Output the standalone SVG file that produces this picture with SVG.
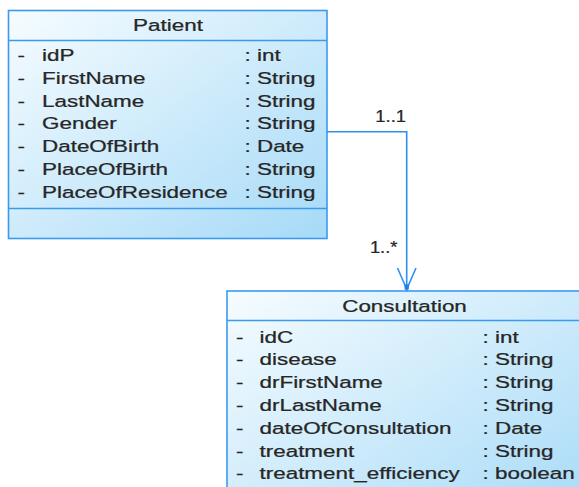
<svg xmlns="http://www.w3.org/2000/svg" width="579" height="487" viewBox="0 0 579 487">
  <defs>
    <linearGradient id="classFill" x1="0" y1="0" x2="1" y2="1">
      <stop offset="0" stop-color="#f6fcff"/>
      <stop offset="1" stop-color="#a6daf7"/>
    </linearGradient>
    <style>
      .box { fill: url(#classFill); stroke: #3a9af2; stroke-width: 1.6; }
      .sep { stroke: #3a9af2; stroke-width: 1.6; fill: none; }
      .t { font-family: "Liberation Sans", Arial, sans-serif; font-size: 17px; fill: #262626; stroke: #262626; stroke-width: 0.25; }
      .title { text-anchor: middle; }
      .lbl { font-family: "Liberation Sans", Arial, sans-serif; font-size: 16px; fill: #262626; stroke: #262626; stroke-width: 0.25; text-anchor: end; }
      .wire { stroke: #2f8ff0; stroke-width: 1.6; fill: none; }
    </style>
  </defs>

  <!-- Patient class -->
  <g id="patient">
    <rect class="box" x="8.5" y="10.5" width="318.5" height="228"/>
    <line class="sep" x1="8.5" y1="40.5" x2="327" y2="40.5"/>
    <line class="sep" x1="8.5" y1="208.5" x2="327" y2="208.5"/>
    <text class="t title" transform="translate(168 30.5) scale(1.32 1)">Patient</text>
    <g>
      <text class="t" transform="translate(17.5 61) scale(1.32 1)">-</text>
      <text class="t" transform="translate(42 61) scale(1.32 1)">idP</text>
      <text class="t" transform="translate(244.5 61) scale(1.32 1)">: int</text>
      <text class="t" transform="translate(17.5 83.75) scale(1.32 1)">-</text>
      <text class="t" transform="translate(42 83.75) scale(1.32 1)">FirstName</text>
      <text class="t" transform="translate(244.5 83.75) scale(1.32 1)">: String</text>
      <text class="t" transform="translate(17.5 106.5) scale(1.32 1)">-</text>
      <text class="t" transform="translate(42 106.5) scale(1.32 1)">LastName</text>
      <text class="t" transform="translate(244.5 106.5) scale(1.32 1)">: String</text>
      <text class="t" transform="translate(17.5 129.25) scale(1.32 1)">-</text>
      <text class="t" transform="translate(42 129.25) scale(1.32 1)">Gender</text>
      <text class="t" transform="translate(244.5 129.25) scale(1.32 1)">: String</text>
      <text class="t" transform="translate(17.5 152) scale(1.32 1)">-</text>
      <text class="t" transform="translate(42 152) scale(1.32 1)">DateOfBirth</text>
      <text class="t" transform="translate(244.5 152) scale(1.32 1)">: Date</text>
      <text class="t" transform="translate(17.5 174.75) scale(1.32 1)">-</text>
      <text class="t" transform="translate(42 174.75) scale(1.32 1)">PlaceOfBirth</text>
      <text class="t" transform="translate(244.5 174.75) scale(1.32 1)">: String</text>
      <text class="t" transform="translate(17.5 197.5) scale(1.32 1)">-</text>
      <text class="t" transform="translate(42 197.5) scale(1.32 1)">PlaceOfResidence</text>
      <text class="t" transform="translate(244.5 197.5) scale(1.32 1)">: String</text>
    </g>
  </g>

  <!-- Consultation class -->
  <g id="consultation">
    <rect class="box" x="227" y="291" width="355" height="235"/>
    <line class="sep" x1="227" y1="320.5" x2="582" y2="320.5"/>
    <text class="t title" transform="translate(404.5 311.5) scale(1.32 1)">Consultation</text>
    <g>
      <text class="t" transform="translate(236 342.5) scale(1.32 1)">-</text>
      <text class="t" transform="translate(259.5 342.5) scale(1.32 1)">idC</text>
      <text class="t" transform="translate(482.5 342.5) scale(1.32 1)">: int</text>
      <text class="t" transform="translate(236 365.3) scale(1.32 1)">-</text>
      <text class="t" transform="translate(259.5 365.3) scale(1.32 1)">disease</text>
      <text class="t" transform="translate(482.5 365.3) scale(1.32 1)">: String</text>
      <text class="t" transform="translate(236 388.1) scale(1.32 1)">-</text>
      <text class="t" transform="translate(259.5 388.1) scale(1.32 1)">drFirstName</text>
      <text class="t" transform="translate(482.5 388.1) scale(1.32 1)">: String</text>
      <text class="t" transform="translate(236 410.9) scale(1.32 1)">-</text>
      <text class="t" transform="translate(259.5 410.9) scale(1.32 1)">drLastName</text>
      <text class="t" transform="translate(482.5 410.9) scale(1.32 1)">: String</text>
      <text class="t" transform="translate(236 433.7) scale(1.32 1)">-</text>
      <text class="t" transform="translate(259.5 433.7) scale(1.32 1)">dateOfConsultation</text>
      <text class="t" transform="translate(482.5 433.7) scale(1.32 1)">: Date</text>
      <text class="t" transform="translate(236 456.5) scale(1.32 1)">-</text>
      <text class="t" transform="translate(259.5 456.5) scale(1.32 1)">treatment</text>
      <text class="t" transform="translate(482.5 456.5) scale(1.32 1)">: String</text>
      <text class="t" transform="translate(236 479.3) scale(1.32 1)">-</text>
      <text class="t" transform="translate(259.5 479.3) scale(1.32 1)">treatment_efficiency</text>
      <text class="t" transform="translate(482.5 479.3) scale(1.32 1)">: boolean</text>
    </g>
  </g>

  <!-- Association Patient -> Consultation -->
  <g id="connectors">
    <polyline class="wire" points="327,131.7 406.7,131.7 406.7,290"/>
    <polyline class="wire" points="397.5,268 404.5,284 406.7,290 409,284 416,268"/>
    <rect x="404.6" y="284.5" width="4.2" height="5" fill="#1f7fe6"/>
    <text class="lbl" transform="translate(406 121.7) scale(1.15 1)">1..1</text>
    <text class="lbl" transform="translate(397.5 253.3) scale(1.15 1)">1..*</text>
  </g>
</svg>
